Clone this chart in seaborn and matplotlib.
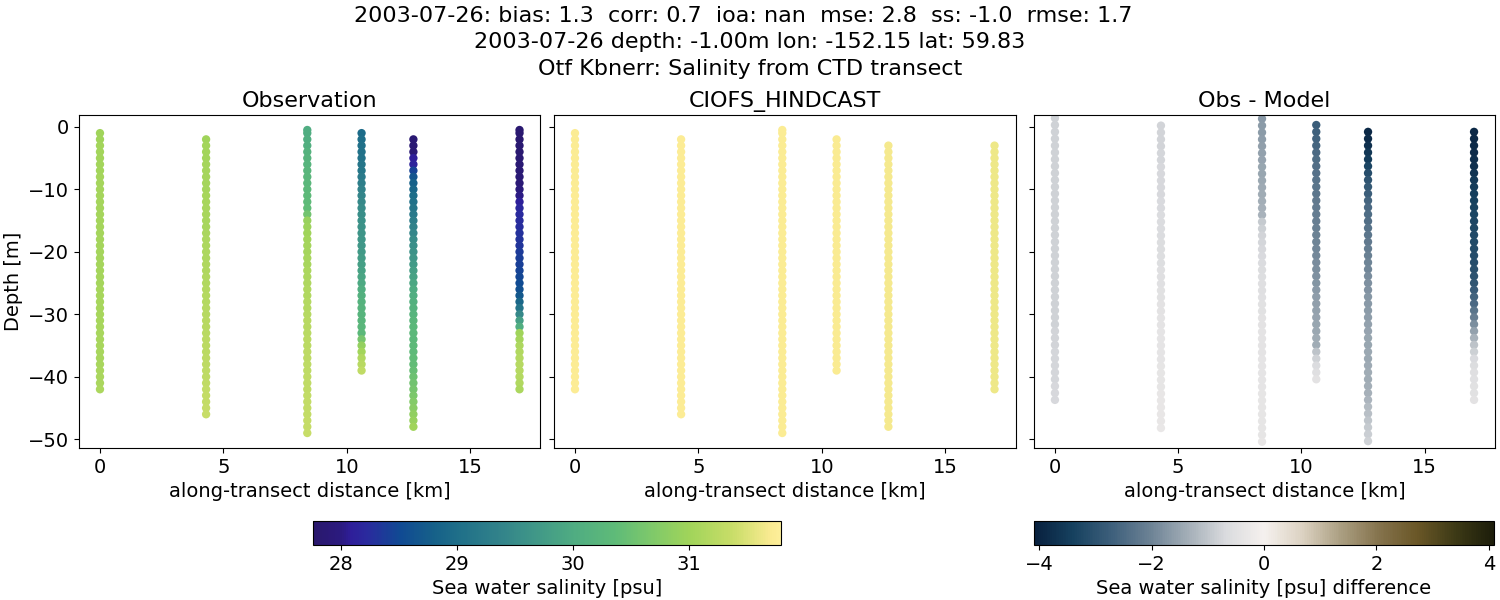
import pandas as pd
import matplotlib
matplotlib.use('Agg')
import matplotlib.pyplot as plt
from matplotlib.cm import ScalarMappable
from matplotlib.colors import LinearSegmentedColormap, Normalize
import seaborn as sns

# distancia a lo largo del transecto [km]
distancias = [0, 4.3, 8.4, 10.6, 12.7, 17]

# profundidades de las observaciones, una lista por estacion
prof_0 = [-1, -2, -3, -4, -5, -6, -7, -8, -9, -10, -11, -12, -13, -14, -15, -16, -17, -18, -19, -20, -21,
          -22, -23, -24, -25, -26, -27, -28, -29, -30, -31, -32, -33, -34, -35, -36, -37, -38, -39, -40, -41, -42]
prof_1 = [-2, -3, -4, -5, -6, -7, -8, -9, -10, -11, -12, -13, -14, -15, -16, -17, -18, -19, -20, -21, -22, -23,
          -24, -25, -26, -27, -28, -29, -30, -31, -32, -33, -34, -35, -36, -37, -38, -39, -40, -41, -42, -43, -44, -45, -46]
prof_2 = [-0.5, -1, -2, -3, -4, -5, -6, -7, -8, -9, -10, -11, -12, -13, -14, -15, -16, -17, -18, -19, -20, -21, -22, -23, -24,
          -25, -26, -27, -28, -29, -30, -31, -32, -33, -34, -35, -36, -37, -38, -39, -40, -41, -42, -43, -44, -45, -46, -47, -48, -49]
prof_3 = [-1, -2, -3, -4, -5, -6, -7, -8, -9, -10, -11, -12, -13, -14, -15, -16, -17, -18, -19, -20,
          -21, -22, -23, -24, -25, -26, -27, -28, -29, -30, -31, -32, -33, -34, -35, -36, -37, -38, -39]
prof_4 = [-2, -3, -4, -5, -6, -7, -8, -9, -10, -11, -12, -13, -14, -15, -16, -17, -18, -19, -20, -21, -22, -23, -24,
          -25, -26, -27, -28, -29, -30, -31, -32, -33, -34, -35, -36, -37, -38, -39, -40, -41, -42, -43, -44, -45, -46, -47, -48]
prof_5 = [-0.5, -1, -2, -3, -4, -5, -6, -7, -8, -9, -10, -11, -12, -13, -14, -15, -16, -17, -18, -19, -20, -21,
          -22, -23, -24, -25, -26, -27, -28, -29, -30, -31, -32, -33, -34, -35, -36, -37, -38, -39, -40, -41, -42]

# salinidad observada
obs_0 = [31.00, 31.00, 31.02, 31.02, 31.03, 31.03, 31.03, 31.04, 31.04, 31.04, 31.04, 31.04, 31.05, 31.05,
         31.05, 31.05, 31.05, 31.05, 31.05, 31.05, 31.05, 31.05, 31.05, 31.05, 31.05, 31.06, 31.06, 31.06,
         31.06, 31.06, 31.06, 31.06, 31.07, 31.07, 31.07, 31.08, 31.08, 31.08, 31.09, 31.09, 31.09, 31.10]
obs_1 = [31.00, 31.02, 31.03, 31.03, 31.04, 31.04, 31.05, 31.05, 31.05, 31.06, 31.06, 31.07, 31.07, 31.08, 31.08,
         31.09, 31.10, 31.11, 31.12, 31.12, 31.13, 31.14, 31.15, 31.16, 31.17, 31.18, 31.19, 31.20, 31.20, 31.21,
         31.22, 31.23, 31.24, 31.25, 31.25, 31.26, 31.27, 31.28, 31.28, 31.30, 31.31, 31.32, 31.33, 31.34, 31.35]
obs_2 = [30.02, 30.04, 30.05, 30.08, 30.15, 30.18, 30.20, 30.22, 30.25, 30.27, 30.30, 30.32, 30.35, 30.38, 30.55,
         30.92, 30.96, 31.00, 31.02, 31.04, 31.05, 31.07, 31.08, 31.10, 31.12, 31.13, 31.15, 31.16, 31.18, 31.19,
         31.20, 31.21, 31.22, 31.23, 31.24, 31.25, 31.26, 31.27, 31.28, 31.28, 31.29, 31.30, 31.30, 31.31, 31.32,
         31.32, 31.33, 31.34, 31.34, 31.35]
obs_3 = [28.95, 29.00, 29.02, 29.05, 29.08, 29.12, 29.15, 29.22, 29.28, 29.35, 29.40, 29.45, 29.50, 29.53, 29.58,
         29.60, 29.62, 29.65, 29.68, 29.70, 29.75, 29.80, 29.85, 29.90, 29.95, 30.05, 30.10, 30.15, 30.18, 30.20,
         30.22, 30.25, 30.28, 30.60, 30.88, 31.02, 31.15, 31.22, 31.30]
obs_4 = [27.85, 27.85, 27.87, 28.08, 28.15, 28.45, 28.65, 28.80, 28.90, 29.00, 29.05, 29.12, 29.20, 29.28, 29.35,
         29.42, 29.50, 29.55, 29.60, 29.65, 29.72, 29.80, 29.85, 29.92, 30.00, 30.05, 30.10, 30.15, 30.20, 30.25,
         30.28, 30.30, 30.30, 30.32, 30.35, 30.38, 30.40, 30.45, 30.50, 30.55, 30.60, 30.65, 30.72, 30.78, 30.85, 30.92, 31.00]
obs_5 = [27.82, 27.82, 27.82, 27.83, 27.83, 27.84, 27.85, 27.86, 27.88, 27.90, 27.95, 28.02, 28.10, 28.20, 28.22, 28.24,
         28.26, 28.28, 28.30, 28.32, 28.36, 28.40, 28.42, 28.45, 28.48, 28.52, 28.58, 28.70, 28.90, 29.10, 29.45, 29.80,
         30.05, 31.00, 31.05, 31.12, 31.16, 31.18, 31.20, 31.20, 31.18, 31.15, 31.10]

# salinidad del modelo (empieza algo mas abajo en las ultimas estaciones)
mod_0 = [31.72, 31.72, 31.72, 31.72, 31.72, 31.72, 31.72, 31.72, 31.72, 31.72, 31.73, 31.73, 31.73, 31.73,
         31.73, 31.73, 31.73, 31.73, 31.73, 31.73, 31.73, 31.73, 31.73, 31.73, 31.73, 31.73, 31.73, 31.73,
         31.73, 31.73, 31.73, 31.73, 31.73, 31.73, 31.73, 31.73, 31.73, 31.73, 31.73, 31.73, 31.73, 31.73]
mod_1 = [31.73, 31.73, 31.73, 31.73, 31.73, 31.73, 31.73, 31.73, 31.73, 31.73, 31.73, 31.73, 31.73, 31.73, 31.73,
         31.73, 31.73, 31.73, 31.73, 31.73, 31.73, 31.73, 31.73, 31.73, 31.73, 31.73, 31.73, 31.73, 31.73, 31.73,
         31.73, 31.73, 31.73, 31.73, 31.73, 31.73, 31.73, 31.73, 31.73, 31.73, 31.73, 31.73, 31.73, 31.73, 31.73]
mod_2 = [31.72, 31.72, 31.72, 31.72, 31.72, 31.72, 31.72, 31.72, 31.72, 31.72, 31.72, 31.72, 31.72, 31.72, 31.72,
         31.72, 31.72, 31.72, 31.72, 31.72, 31.72, 31.72, 31.72, 31.72, 31.72, 31.72, 31.72, 31.72, 31.72, 31.72,
         31.72, 31.72, 31.72, 31.72, 31.72, 31.72, 31.72, 31.72, 31.72, 31.72, 31.72, 31.72, 31.72, 31.72, 31.72,
         31.72, 31.72, 31.72, 31.72, 31.72]
mod_3 = [31.70, 31.70, 31.70, 31.70, 31.70, 31.70, 31.70, 31.70, 31.70, 31.70, 31.70, 31.70, 31.70, 31.70, 31.70,
         31.70, 31.70, 31.70, 31.70, 31.70, 31.70, 31.70, 31.70, 31.70, 31.70, 31.70, 31.70, 31.70, 31.70, 31.70,
         31.70, 31.70, 31.70, 31.70, 31.70, 31.70, 31.70, 31.70]
mod_4 = [31.67, 31.67, 31.67, 31.67, 31.67, 31.67, 31.67, 31.67, 31.67, 31.67, 31.67, 31.67, 31.67, 31.67, 31.67,
         31.67, 31.67, 31.67, 31.67, 31.67, 31.67, 31.67, 31.67, 31.67, 31.67, 31.67, 31.67, 31.67, 31.67, 31.67,
         31.67, 31.67, 31.67, 31.67, 31.67, 31.67, 31.67, 31.67, 31.67, 31.67, 31.67, 31.67, 31.67, 31.67, 31.67, 31.67]
mod_5 = [31.62, 31.62, 31.62, 31.62, 31.62, 31.62, 31.62, 31.62, 31.62, 31.62, 31.62, 31.62, 31.62, 31.62,
         31.62, 31.62, 31.62, 31.62, 31.62, 31.62, 31.62, 31.62, 31.62, 31.62, 31.62, 31.62, 31.62, 31.62,
         31.62, 31.62, 31.62, 31.62, 31.62, 31.62, 31.62, 31.62, 31.62, 31.62, 31.62, 31.62]

# profundidades del panel de diferencia
prof_dif_0 = [1.4, 0.3, -0.8, -1.9, -3.0, -4.1, -5.2, -6.3, -7.4, -8.5, -9.6, -10.7, -11.8, -12.9, -14.0, -15.1, -16.2, -17.3,
              -18.4, -19.5, -20.6, -21.7, -22.8, -23.9, -25.0, -26.1, -27.2, -28.3, -29.4, -30.5, -31.6, -32.7, -33.8,
              -34.9, -36.0, -37.1, -38.2, -39.3, -40.4, -41.5, -42.6, -43.7]
prof_dif_1 = [0.2, -0.9, -2.0, -3.1, -4.2, -5.3, -6.4, -7.5, -8.6, -9.7, -10.8, -11.9, -13.0, -14.1, -15.2, -16.3, -17.4, -18.5,
              -19.6, -20.7, -21.8, -22.9, -24.0, -25.1, -26.2, -27.3, -28.4, -29.5, -30.6, -31.7, -32.8, -33.9, -35.0,
              -36.1, -37.2, -38.3, -39.4, -40.5, -41.6, -42.7, -43.8, -44.9, -46.0, -47.1, -48.2]
prof_dif_2 = [2.4, 1.3, 0.2, -0.9, -2.0, -3.1, -4.2, -5.3, -6.4, -7.5, -8.6, -9.7, -10.8, -11.9, -13.0, -14.1, -15.2, -16.3, -17.4,
              -18.5, -19.6, -20.7, -21.8, -22.9, -24.0, -25.1, -26.2, -27.3, -28.4, -29.5, -30.6, -31.7, -32.8, -33.9, -35.0,
              -36.1, -37.2, -38.3, -39.4, -40.5, -41.6, -42.7, -43.8, -44.9, -46.0, -47.1, -48.2, -49.3, -50.4]
prof_dif_3 = [0.3, -0.8, -1.9, -3.0, -4.1, -5.2, -6.3, -7.4, -8.5, -9.6, -10.7, -11.8, -12.9, -14.0, -15.1, -16.2, -17.3, -18.4, -19.5,
              -20.6, -21.7, -22.8, -23.9, -25.0, -26.1, -27.2, -28.3, -29.4, -30.5, -31.6, -32.7, -33.8, -34.9, -36.0, -37.1,
              -38.2, -39.3, -40.4]
prof_dif_4 = [-0.8, -1.9, -3.0, -4.1, -5.2, -6.3, -7.4, -8.5, -9.6, -10.7, -11.8, -12.9, -14.0, -15.1, -16.2, -17.3, -18.4, -19.5,
              -20.6, -21.7, -22.8, -23.9, -25.0, -26.1, -27.2, -28.3, -29.4, -30.5, -31.6, -32.7, -33.8, -34.9, -36.0, -37.1,
              -38.2, -39.3, -40.4, -41.5, -42.6, -43.7, -44.8, -45.9, -47.0, -48.1, -49.2, -50.3]
prof_dif_5 = [-0.8, -1.9, -3.0, -4.1, -5.2, -6.3, -7.4, -8.5, -9.6, -10.7, -11.8, -12.9, -14.0, -15.1, -16.2, -17.3, -18.4, -19.5,
              -20.6, -21.7, -22.8, -23.9, -25.0, -26.1, -27.2, -28.3, -29.4, -30.5, -31.6, -32.7, -33.8, -34.9, -36.0, -37.1,
              -38.2, -39.3, -40.4, -41.5, -42.6, -43.7]

# obs - modelo
dif_0 = [-0.82, -0.82, -0.82, -0.82, -0.82, -0.82, -0.82, -0.82, -0.82, -0.82, -0.82, -0.82, -0.82, -0.82,
         -0.82, -0.82, -0.82, -0.82, -0.82, -0.82, -0.82, -0.82, -0.82, -0.82, -0.82, -0.82, -0.82, -0.82,
         -0.80, -0.80, -0.80, -0.78, -0.78, -0.78, -0.76, -0.76, -0.76, -0.74, -0.74, -0.72, -0.72, -0.72]
dif_1 = [-0.78, -0.78, -0.77, -0.77, -0.75, -0.75, -0.73, -0.73, -0.73, -0.71, -0.71, -0.69, -0.68, -0.67, -0.66,
         -0.65, -0.64, -0.63, -0.61, -0.59, -0.58, -0.57, -0.55, -0.53, -0.51, -0.49, -0.47, -0.45, -0.43, -0.42,
         -0.41, -0.40, -0.40, -0.39, -0.39, -0.38, -0.38, -0.37, -0.37, -0.35, -0.35, -0.35, -0.33, -0.33, -0.31]
dif_2 = [-1.70, -1.68, -1.66, -1.65, -1.62, -1.58, -1.55, -1.52, -1.50, -1.47, -1.45, -1.42, -1.38, -1.35, -1.32, -1.30,
         -0.95, -0.85, -0.78, -0.74, -0.72, -0.70, -0.66, -0.62, -0.60, -0.57, -0.55, -0.52, -0.50, -0.48, -0.46,
         -0.45, -0.44, -0.43, -0.42, -0.42, -0.41, -0.40, -0.40, -0.39, -0.39, -0.38, -0.38, -0.38, -0.37, -0.36,
         -0.36, -0.36, -0.35]
dif_3 = [-2.75, -2.70, -2.65, -2.60, -2.52, -2.46, -2.40, -2.36, -2.32, -2.28, -2.24, -2.20, -2.16, -2.12, -2.08,
         -2.05, -2.02, -2.00, -1.96, -1.92, -1.88, -1.84, -1.80, -1.74, -1.68, -1.62, -1.58, -1.54, -1.52, -1.50,
         -1.45, -1.40, -1.38, -1.05, -0.80, -0.65, -0.55, -0.45]
dif_4 = [-3.90, -3.85, -3.75, -3.60, -3.50, -3.30, -3.10, -2.95, -2.85, -2.72, -2.60, -2.52, -2.45, -2.40, -2.32,
         -2.25, -2.18, -2.12, -2.05, -2.00, -1.95, -1.88, -1.82, -1.78, -1.72, -1.68, -1.65, -1.60, -1.56, -1.52,
         -1.50, -1.48, -1.46, -1.44, -1.42, -1.40, -1.38, -1.35, -1.32, -1.25, -1.18, -1.10, -1.02, -0.95, -0.88, -0.82]
dif_5 = [-3.90, -3.90, -3.85, -3.85, -3.80, -3.75, -3.65, -3.55, -3.50, -3.45, -3.40, -3.35, -3.30, -3.28, -3.25,
         -3.22, -3.18, -3.15, -3.12, -3.10, -3.05, -3.00, -2.92, -2.80, -2.65, -2.50, -2.30, -2.10, -1.85, -1.55,
         -1.30, -1.05, -0.85, -0.70, -0.62, -0.55, -0.52, -0.50, -0.48, -0.45]

# etiquetas
titulo = ('2003-07-26: bias: 1.3  corr: 0.7  ioa: nan  mse: 2.8  ss: -1.0  rmse: 1.7  \n'
          '2003-07-26 depth: -1.00m lon: -152.15 lat: 59.83\n'
          'Otf Kbnerr: Salinity from CTD transect')
paneles = ['Observation', 'CIOFS_HINDCAST', 'Obs - Model']

# mapas de color (aprox. cmocean haline y diff)
haline = LinearSegmentedColormap.from_list('haline', [
    (0, '#2a186c'), (.06, '#2b1a80'), (.078, '#2f1e99'), (.114, '#2a2a9e'), (.185, '#104a93'),
    (.256, '#166089'), (.31, '#1f6f89'), (.40, '#32838a'), (.47, '#3f9688'), (.557, '#4fac82'),
    (.648, '#5fbb78'), (.726, '#7fc96a'), (.804, '#a0d45a'), (.897, '#c8dd68'), (.982, '#fbeb93'),
    (1, '#fdef9a')])
diferencia = LinearSegmentedColormap.from_list('diferencia', [
    '#08203e', '#16415f', '#3d5f7b', '#6b8194', '#a3aeb7', '#dadbde', '#f5f1ee',
    '#dcd2c2', '#ab9f82', '#85734d', '#6a5727', '#3d3a16', '#1c1d0a'])
norm_sal = Normalize(27.76, 31.79)
norm_dif = Normalize(-4.09, 4.09)


def tabla(profs, valores):
    filas = []
    for d, p, v in zip(distancias, profs, valores):
        filas.append(pd.DataFrame({'dist': [d] * len(p), 'prof': p, 'valor': v}))
    return pd.concat(filas, ignore_index=True)


def caja(fig, izq, arr, der, abj):
    # posicion en pixeles de la figura de 1500x600
    return fig.add_axes([izq / 1500, 1 - abj / 600, (der - izq) / 1500, (abj - arr) / 600])


df_obs = tabla([prof_0, prof_1, prof_2, prof_3, prof_4, prof_5], [obs_0, obs_1, obs_2, obs_3, obs_4, obs_5])
df_mod = tabla([prof_0, prof_1, prof_2, prof_3[1:], prof_4[1:], prof_5[3:]], [mod_0, mod_1, mod_2, mod_3, mod_4, mod_5])
df_dif = tabla([prof_dif_0, prof_dif_1, prof_dif_2, prof_dif_3, prof_dif_4, prof_dif_5], [dif_0, dif_1, dif_2, dif_3, dif_4, dif_5])

plt.rcParams['font.size'] = 14

fig = plt.figure(figsize=(15, 6), dpi=100)
fig.text(0.5, 0.9905, titulo, ha='center', va='top', fontsize=16, linespacing=1.41)

ax1 = caja(fig, 79, 115, 540.5, 448)
ax2 = caja(fig, 554, 115, 1015.5, 448)
ax3 = caja(fig, 1034, 115, 1495, 448)

datos = [(df_obs, haline, norm_sal), (df_mod, haline, norm_sal), (df_dif, diferencia, norm_dif)]
for ax, (df, cmap, norm), nombre in zip([ax1, ax2, ax3], datos, paneles):
    sns.scatterplot(data=df, x='dist', y='prof', hue='valor', palette=cmap, hue_norm=norm,
                    s=36, linewidth=0, legend=False, ax=ax)
    ax.set_xlim(-0.85, 17.85)
    ax.set_ylim(-51.4, 1.9)
    ax.set_xticks([0, 5, 10, 15])
    ax.set_yticks([0, -10, -20, -30, -40, -50])
    ax.set_xlabel('along-transect distance [km]', fontsize=14)
    ax.set_ylabel('')
    ax.set_title(nombre, fontsize=16, pad=6)
    ax.tick_params(labelsize=14)

ax1.set_ylabel('Depth [m]', fontsize=14, labelpad=4)
ax2.set_yticklabels([])
ax3.set_yticklabels([])

# barras de color
cax1 = caja(fig, 313, 521, 781, 545)
cb1 = fig.colorbar(ScalarMappable(norm=norm_sal, cmap=haline), cax=cax1, orientation='horizontal')
cb1.set_ticks([28, 29, 30, 31])
cb1.set_label('Sea water salinity [psu]', fontsize=14)
cb1.ax.tick_params(labelsize=14)

cax2 = caja(fig, 1034, 521, 1494, 545)
cb2 = fig.colorbar(ScalarMappable(norm=norm_dif, cmap=diferencia), cax=cax2, orientation='horizontal')
cb2.set_ticks([-4, -2, 0, 2, 4])
cb2.set_label('Sea water salinity [psu] difference', fontsize=14)
cb2.ax.tick_params(labelsize=14)

fig.savefig('out.png', dpi=100)
plt.close(fig)
